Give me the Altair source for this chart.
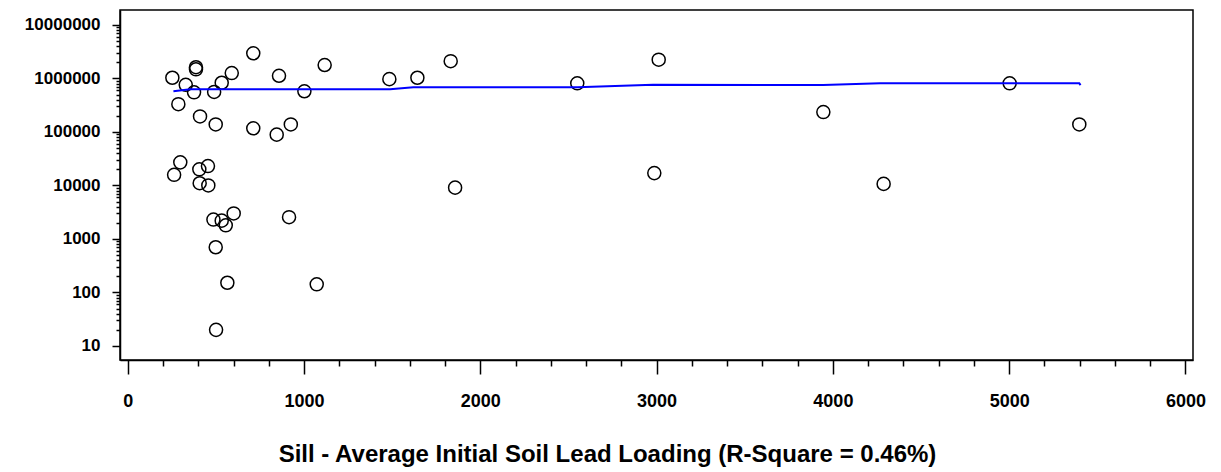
import altair as alt
import pandas as pd

# Scatter data: Sill - Average Initial Soil Lead Loading (x) vs response (y, log)
pt_x = [253, 329, 387, 387, 376, 287, 410, 490, 533, 590, 499, 712, 712, 858, 845,
        925, 1002, 1117, 298, 263, 406, 455, 408, 457, 486, 533, 556, 601, 915, 499,
        565, 1072, 501, 1484, 1643, 1832, 1857, 2550, 3012, 2987, 3946, 4288, 5003, 5398]
pt_y = [1030000, 760000, 1620000, 1480000, 550000, 330000, 195000, 560000, 830000, 1260000,
        138000, 2950000, 117000, 1120000, 89000, 138000, 575000, 1780000, 27000, 15800,
        20000, 23000, 11000, 10000, 2300, 2200, 1800, 3000, 2550, 700,
        152, 142, 20, 970000, 1030000, 2100000, 9100, 810000, 2240000, 17000,
        235000, 10700, 810000, 138000]

# Smoothed fit line
fit_x = [259, 354, 1488, 1620, 2550, 2980, 3945, 4268, 5398, 5405]
fit_y = [575000, 630000, 630000, 686000, 686000, 760000, 750000, 810000, 810000, 750000]

x_ticks = list(range(0, 6001, 200))
y_ticks = [m * 10 ** k for k in range(1, 7) for m in range(1, 10)] + [10 ** 7]

pts = pd.DataFrame({"x": pt_x, "y": pt_y})
fit = pd.DataFrame({"x": fit_x, "y": fit_y})

FONT = "Liberation Sans"

x_axis = alt.Axis(
    values=x_ticks,
    labelExpr="datum.value % 1000 == 0 ? format(datum.value, 'd') : ''",
    tickSize={"condition": {"test": "datum.value % 1000 == 0", "value": 14}, "value": 6},
    tickColor="black", tickWidth=1.5,
    domainColor="black", domainWidth=1.5,
    labelFont=FONT, labelFontSize=18, labelFontWeight="bold", labelColor="black",
    labelPadding=18, labelFlush=False, labelOverlap=False,
    grid=False,
    title="Sill - Average Initial Soil Lead Loading (R-Square = 0.46%)",
    titleFont=FONT, titleFontSize=24, titleFontWeight="bold", titleColor="black",
    titleX=487, titleY=101, titleAlign="center", titleBaseline="alphabetic",
    titleAnchor="start",
)

y_axis = alt.Axis(
    values=y_ticks,
    labelExpr="abs(log(datum.value)/LN10 - round(log(datum.value)/LN10)) < 0.001 ? format(datum.value, 'd') : ''",
    tickSize={"condition": {"test": "abs(log(datum.value)/LN10 - round(log(datum.value)/LN10)) < 0.001", "value": 8}, "value": 4},
    tickColor="black", tickWidth=1.5,
    domainColor="black", domainWidth=1.5,
    labelFont=FONT, labelFontSize=17, labelFontWeight="bold", labelColor="black",
    labelPadding=12, labelOverlap=False, labelFlush=False,
    grid=False, title="",
)

xs = alt.Scale(domain=[-44, 6043], nice=False, zero=False)
ys = alt.Scale(type="log", domain=[5.47, 19000000], nice=False)

points = alt.Chart(pts).mark_point(
    shape="circle", size=170, filled=False, color="black", strokeWidth=1.5, opacity=1
).encode(
    x=alt.X("x:Q", scale=xs, axis=x_axis),
    y=alt.Y("y:Q", scale=ys, axis=y_axis),
)

line = alt.Chart(fit).mark_line(color="#0000FF", strokeWidth=2).encode(
    x=alt.X("x:Q", scale=xs, axis=x_axis),
    y=alt.Y("y:Q", scale=ys, axis=y_axis),
    order="x:Q",
)

chart = alt.layer(points, line).properties(
    width=1073, height=350,
    autosize=alt.AutoSizeParams(type="none"),
    padding={"left": 112, "top": 2, "right": 20, "bottom": 110},
    background="white",
).configure_view(stroke="black", strokeWidth=1.5)

chart.save("out.html", embed_options={"renderer": "svg", "actions": False})
